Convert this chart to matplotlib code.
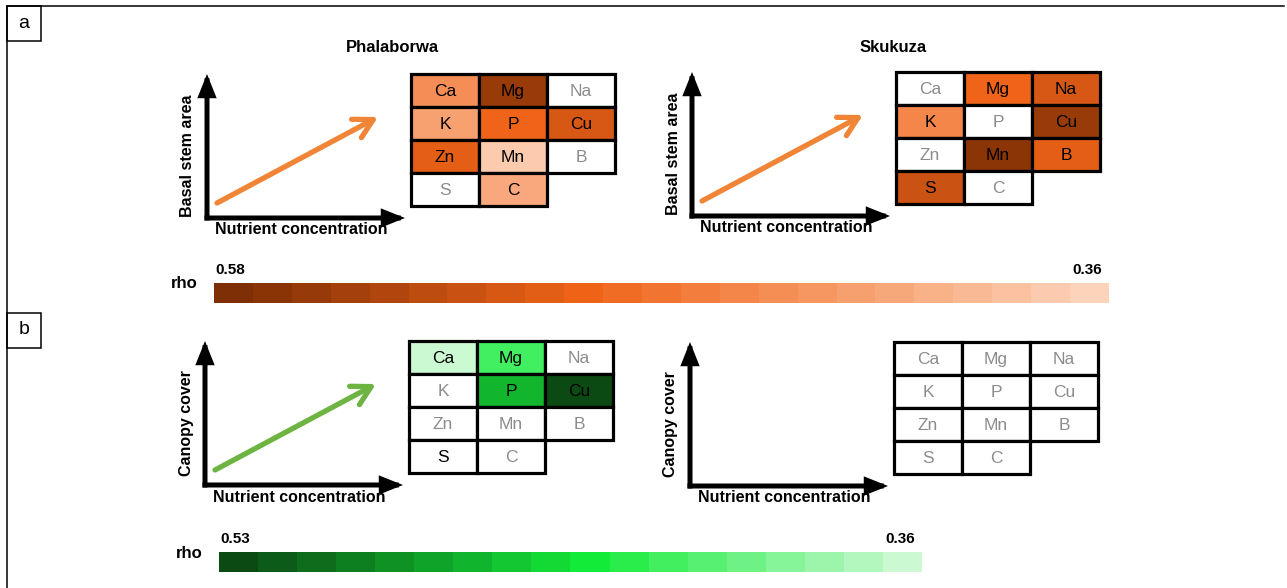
import numpy as np
import matplotlib.pyplot as plt
from matplotlib.colors import LinearSegmentedColormap, ListedColormap, BoundaryNorm
from matplotlib.patches import Rectangle, FancyArrowPatch

plt.rcParams['font.family'] = ['Liberation Sans', 'DejaVu Sans']
NARROW = ['Liberation Sans Narrow', 'Liberation Sans', 'DejaVu Sans']

# nutrients, laid out row by row in a 3-column table
elements = ['Ca', 'Mg', 'Na', 'K', 'P', 'Cu', 'Zn', 'Mn', 'B', 'S', 'C']

# Spearman rho per nutrient (None = not significant)
rho_basal_phalaborwa = [0.44, 0.56, None, 0.42, 0.49, 0.51, 0.50, 0.37, None, None, 0.41]
rho_basal_skukuza = [None, 0.49, 0.51, 0.45, None, 0.56, None, 0.57, 0.50, 0.52, None]
rho_canopy_phalaborwa = [0.36, 0.42, None, None, 0.47, 0.53, None, None, None, None, None]
rho_canopy_skukuza = [None] * 11
# significant but below colour range
marked_canopy_phalaborwa = ['S']

sites = ['Phalaborwa', 'Skukuza']

# colour-scale ranges and number of steps
basal_range = (0.58, 0.36)
basal_steps = 23
canopy_range = (0.53, 0.36)
canopy_steps = 18

# stepped colour maps (light -> dark)
orange_base = LinearSegmentedColormap.from_list(
    'or', [(0.0, '#fdd3ba'), (0.59, '#f06418'), (1.0, '#7f2f05')])
green_base = LinearSegmentedColormap.from_list(
    'gr', [(0.0, '#cbf9d2'), (0.47, '#14ec3a'), (1.0, '#0c4a14')])


def stepped(base, lo_hi, n):
    hi, lo = lo_hi
    levels = np.linspace(lo, hi, n)
    step = (hi - lo) / (n - 1)
    cmap = ListedColormap(base(np.linspace(0, 1, n)))
    bounds = np.concatenate([levels - step / 2, [hi + step / 2]])
    return levels, cmap, BoundaryNorm(bounds, n)


basal_levels, basal_cmap, basal_norm = stepped(orange_base, basal_range, basal_steps)
canopy_levels, canopy_cmap, canopy_norm = stepped(green_base, canopy_range, canopy_steps)

fig = plt.figure(figsize=(12.87, 5.88), dpi=100)
ax = fig.add_axes([0, 0, 1, 1])
ax.set_axis_off()

CELL_W, CELL_H = 68, 33


def draw_panel(ox, oy, ylabel, arrow_color, rho, cmap, norm, marked=()):
    # sketch axes
    for end in [(ox, oy - 144), (ox + 198, oy)]:
        ax.add_patch(FancyArrowPatch(
            (ox, oy), end, arrowstyle='-|>,head_length=0.6,head_width=0.24',
            mutation_scale=18, lw=3.6, color='black', shrinkA=0, shrinkB=0,
            joinstyle='miter', capstyle='projecting'))
    ax.text(ox - 19, oy - 62, ylabel, rotation=90, ha='center', va='center',
            fontsize=11.5, fontweight='bold')
    ax.text(ox + 94, oy + 12, 'Nutrient concentration', ha='center', va='center',
            fontsize=11.5, fontweight='bold')
    if arrow_color is not None:
        ax.add_patch(FancyArrowPatch(
            (ox + 10, oy - 15), (ox + 171, oy - 101),
            arrowstyle='->,head_length=0.4,head_width=0.22', mutation_scale=34,
            lw=3.8, color=arrow_color, shrinkA=0, shrinkB=0))

    # nutrient table
    gx, gy = ox + 204, oy - 144
    for i, (el, r) in enumerate(zip(elements, rho)):
        row, col = divmod(i, 3)
        x, y = gx + col * CELL_W, gy + row * CELL_H
        face = 'white' if r is None else cmap(norm(r))
        ax.add_patch(Rectangle((x, y), CELL_W, CELL_H, facecolor=face,
                               edgecolor='black', lw=2.3, zorder=2))
        tcol = 'black' if (r is not None or el in marked) else '#8c8c8c'
        ax.text(x + CELL_W / 2, y + CELL_H / 2 + 1, el, ha='center', va='center',
                fontsize=12.5, color=tcol, zorder=3)


def draw_scale(x0, x1, y0, levels, cmap, norm, hi, lo):
    ax.imshow(levels[::-1][np.newaxis, :], cmap=cmap, norm=norm, aspect='auto',
              extent=(x0, x1, y0 + 20, y0), interpolation='nearest', zorder=1)
    ax.text(x0 - 16, y0 + 1, 'rho', ha='right', va='center', fontsize=12,
            fontweight='bold', family=NARROW)
    ax.text(x0 + 16, y0 - 13, f'{hi:.2f}', ha='center', va='center', fontsize=11,
            fontweight='bold', family=NARROW)
    ax.text(x1 - 22, y0 - 13, f'{lo:.2f}', ha='center', va='center', fontsize=11,
            fontweight='bold', family=NARROW)


# panel a: basal stem area
draw_panel(207, 218, 'Basal stem area', '#f08437', rho_basal_phalaborwa,
           basal_cmap, basal_norm)
draw_panel(692, 216, 'Basal stem area', '#f08437', rho_basal_skukuza,
           basal_cmap, basal_norm)
ax.text(392, 48, sites[0], ha='center', va='center', fontsize=12, fontweight='bold')
ax.text(893, 48, sites[1], ha='center', va='center', fontsize=12, fontweight='bold')
draw_scale(214, 1109, 283, basal_levels, basal_cmap, basal_norm, *basal_range)

# panel b: canopy cover
draw_panel(205, 485, 'Canopy cover', '#6db442', rho_canopy_phalaborwa,
           canopy_cmap, canopy_norm, marked_canopy_phalaborwa)
draw_panel(690, 486, 'Canopy cover', None, rho_canopy_skukuza,
           canopy_cmap, canopy_norm)
draw_scale(219, 922, 552, canopy_levels, canopy_cmap, canopy_norm, *canopy_range)

# frame and panel letters
ax.plot([7, 1284], [6, 6], color='black', lw=1.1)
ax.plot([7, 7], [6, 588], color='black', lw=1.1)
for y, letter in [(6, 'a'), (313, 'b')]:
    ax.add_patch(Rectangle((7, y), 34, 35, facecolor='white', edgecolor='black', lw=1.1))
    ax.text(24, y + 17, letter, ha='center', va='center', fontsize=14, family=NARROW)

ax.set_xlim(0, 1287)
ax.set_ylim(588, 0)
fig.savefig('out.png', dpi=100)
